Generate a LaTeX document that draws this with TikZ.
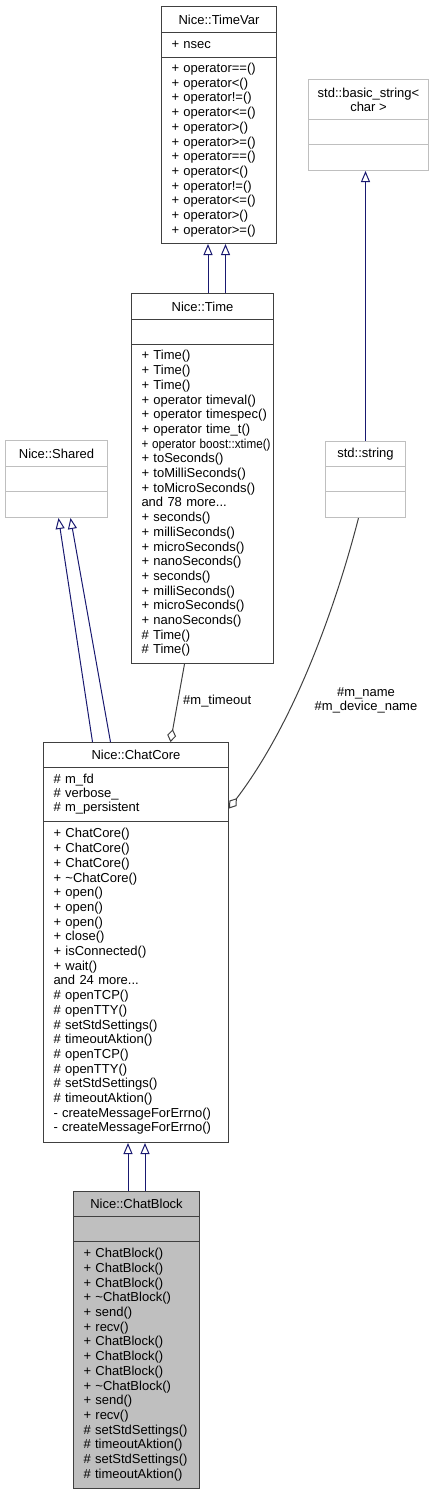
\documentclass[tikz,border=0pt]{standalone}
\usepackage{graphicx}
\usepackage{fontspec}
\setmainfont{Liberation Sans}
\usetikzlibrary{arrows.meta}
\definecolor{dgrey}{HTML}{404040}
\definecolor{lgrey}{HTML}{BFBFBF}
\definecolor{navy}{HTML}{191970}

\begin{document}
\begin{tikzpicture}[
		x=1pt, y=-1pt,
		every node/.style={inner sep=0pt, anchor=north west, font=\fontsize{13}{14.7}\selectfont},
		cls/.style={draw=dgrey, line width=1pt, align=center},
		ext/.style={draw=lgrey, line width=1pt, align=center},
		mem/.style={inner xsep=10pt, align=left},
		inh/.style={draw=navy, line width=1pt, -{Triangle[open, length=11pt, width=9pt]}},
		agg/.style={draw=dgrey, line width=1pt, -{Diamond[open, length=13pt, width=9pt]}}
	]
  \useasboundingbox (0,0) rectangle (434,1493);

  \node (timevar_t) [cls, minimum width=115, minimum height=26] at (161,6) {Nice::TimeVar};
  \node (timevar_a) [cls, mem, text width=95, minimum height=25] at (161,32) {+ nsec};
  \node (timevar_m) [cls, mem, text width=95, minimum height=186] at (161,57) {\begin{tabular}{@{}l@{}}+ operator==()\\+ operator<()\\+ operator!=()\\+ operator<=()\\+ operator>()\\+ operator>=()\\+ operator==()\\+ operator<()\\+ operator!=()\\+ operator<=()\\+ operator>()\\+ operator>=()\end{tabular}};

  \node (bstr_t) [ext, minimum width=120, minimum height=40, font=\fontsize{13}{14}\selectfont] at (308,79) {std::basic\_string<\\char >};
  \node (bstr_a) [ext, minimum width=120, minimum height=25] at (308,119) {};
  \node (bstr_m) [ext, minimum width=120, minimum height=26] at (308,144) {};

  \node (time_t) [cls, minimum width=142, minimum height=26] at (131,293) {Nice::Time};
  \node (time_a) [cls, minimum width=142, minimum height=25] at (131,319) {};
  \node (time_m) [cls, mem, text width=122, minimum height=319] at (131,344) {\begin{tabular}{@{}l@{}}+ Time()\\+ Time()\\+ Time()\\+ operator timeval()\\+ operator timespec()\\+ operator time\_t()\\\scalebox{0.9}[1]{+ operator boost::xtime()}\\+ toSeconds()\\+ toMilliSeconds()\\+ toMicroSeconds()\\and 78 more...\\+ seconds()\\+ milliSeconds()\\+ microSeconds()\\+ nanoSeconds()\\+ seconds()\\+ milliSeconds()\\+ microSeconds()\\+ nanoSeconds()\\\# Time()\\\# Time()\end{tabular}};

  \node (shared_t) [ext, minimum width=102, minimum height=26] at (5,440) {Nice::Shared};
  \node (shared_a) [ext, minimum width=102, minimum height=25] at (5,466) {};
  \node (shared_m) [ext, minimum width=102, minimum height=26] at (5,491) {};

  \node (string_t) [ext, minimum width=80, minimum height=25] at (325,441) {std::string};
  \node (string_a) [ext, minimum width=80, minimum height=25] at (325,466) {};
  \node (string_m) [ext, minimum width=80, minimum height=26] at (325,491) {};

  \node (chatcore_t) [cls, minimum width=185, minimum height=25] at (43,742) {Nice::ChatCore};
  \node (chatcore_a) [cls, mem, text width=165, minimum height=54, font=\fontsize{13}{14}\selectfont] at (43,767) {\# m\_fd\\\# verbose\_\\\# m\_persistent};
  \node (chatcore_m) [cls, mem, text width=165, minimum height=321] at (43,821) {\begin{tabular}{@{}l@{}}+ ChatCore()\\+ ChatCore()\\+ ChatCore()\\+ \textasciitilde ChatCore()\\+ open()\\+ open()\\+ open()\\+ close()\\+ isConnected()\\+ wait()\\and 24 more...\\\# openTCP()\\\# openTTY()\\\# setStdSettings()\\\# timeoutAktion()\\\# openTCP()\\\# openTTY()\\\# setStdSettings()\\\# timeoutAktion()\\- createMessageForErrno()\\- createMessageForErrno()\end{tabular}};

  \node (chatblock_t) [cls, fill=lgrey, minimum width=126, minimum height=25] at (73,1191) {Nice::ChatBlock};
  \node (chatblock_a) [cls, fill=lgrey, minimum width=126, minimum height=25] at (73,1216) {};
  \node (chatblock_m) [cls, mem, fill=lgrey, text width=106, minimum height=247] at (73,1241) {\begin{tabular}{@{}l@{}}+ ChatBlock()\\+ ChatBlock()\\+ ChatBlock()\\+ \textasciitilde ChatBlock()\\+ send()\\+ recv()\\+ ChatBlock()\\+ ChatBlock()\\+ ChatBlock()\\+ \textasciitilde ChatBlock()\\+ send()\\+ recv()\\\# setStdSettings()\\\# timeoutAktion()\\\# setStdSettings()\\\# timeoutAktion()\end{tabular}};

  \node (lbl_timeout) [anchor=west] at (183,701) {\#m\_timeout};
  \node (lbl_name) [anchor=center, align=center, font=\fontsize{13}{14}\selectfont] at (366,700) {\#m\_name\\\#m\_device\_name};

  \draw[inh] ([xshift=-11pt]timevar_m.south |- time_t.north) -- ([xshift=-11pt]timevar_m.south);
  \draw[inh] ([xshift=6.5pt]timevar_m.south |- time_t.north) -- ([xshift=6.5pt]timevar_m.south);
  \draw[inh] (string_t.north) -- (string_t.north |- bstr_m.south);
  \draw[inh] ([xshift=-43.5pt]chatcore_t.north) -- ([xshift=2pt]shared_m.south);
  \draw[inh] ([xshift=-25.5pt]chatcore_t.north) -- ([xshift=14pt]shared_m.south);
  \draw[inh] ([xshift=-8.5pt]chatblock_t.north) -- ([xshift=-8.5pt]chatblock_t.north |- chatcore_m.south);
  \draw[inh] ([xshift=8.5pt]chatblock_t.north) -- ([xshift=8.5pt]chatblock_t.north |- chatcore_m.south);
  \draw[agg] ([xshift=-18pt]time_m.south) -- ([xshift=34.5pt]chatcore_t.north);
  \draw[agg] ([xshift=-7pt]string_m.south) .. controls (340,590) and (300,715) .. ([yshift=-14pt]chatcore_a.east);
\end{tikzpicture}
\end{document}
